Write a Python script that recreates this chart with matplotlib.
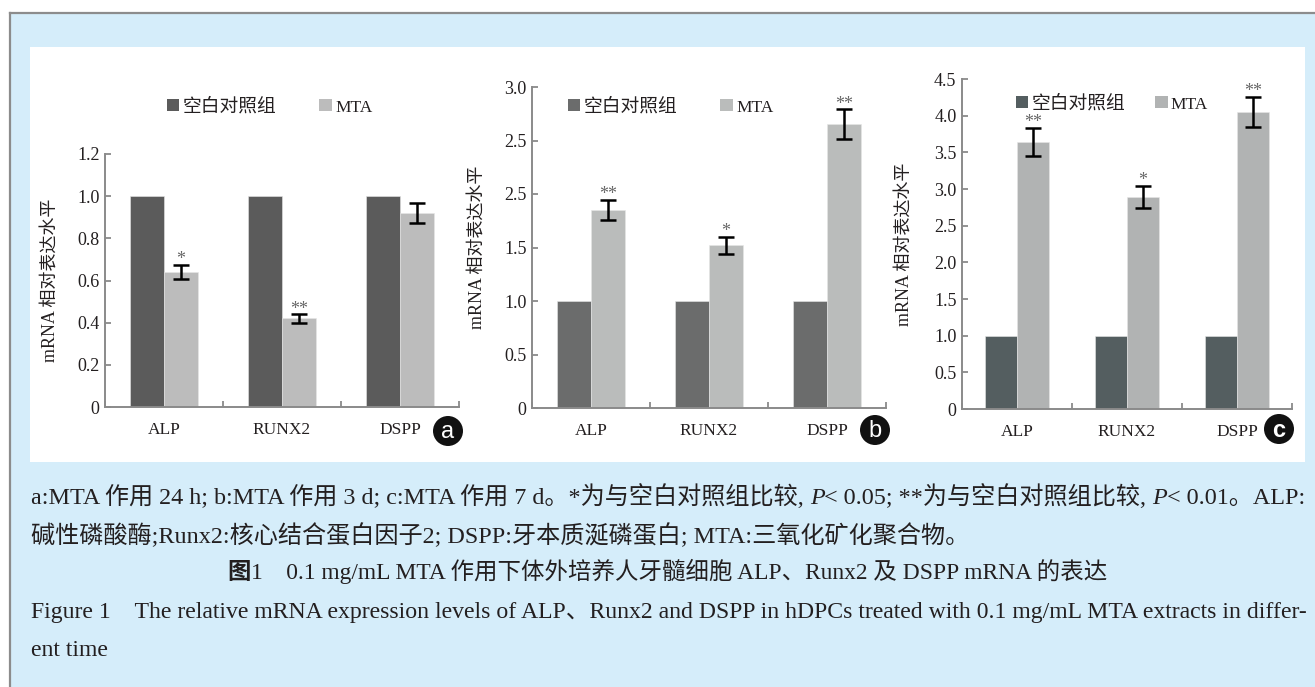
import matplotlib
matplotlib.use("Agg")
import matplotlib.pyplot as plt
import numpy as np
from matplotlib.patches import Rectangle, Ellipse, Patch

plt.rcParams['font.family'] = ['Liberation Serif', 'Noto Sans CJK SC']

W, H = 1315, 687

genes = ['ALP', 'RUNX2', 'DSPP']
legend_labels = ['空白对照组', 'MTA']
ylabel = 'mRNA 相对表达水平'

ctrl_a = [1.0, 1.0, 1.0]
mta_a = [0.64, 0.42, 0.92]
err_a = [0.035, 0.02, 0.048]
star_a = ['*', '**', '']
ticks_a = [0, 0.2, 0.4, 0.6, 0.8, 1.0, 1.2]
ticklab_a = ['0', '0.2', '0.4', '0.6', '0.8', '1.0', '1.2']

ctrl_b = [1.0, 1.0, 1.0]
mta_b = [1.85, 1.52, 2.65]
err_b = [0.095, 0.08, 0.14]
star_b = ['**', '*', '**']
ticks_b = [0, 0.5, 1.0, 1.5, 2.0, 2.5, 3.0]
ticklab_b = ['0', '0.5', '1.0', '1.5', '2.5', '2.5', '3.0']  # as printed

ctrl_c = [1.0, 1.0, 1.0]
mta_c = [3.64, 2.89, 4.05]
err_c = [0.19, 0.15, 0.21]
star_c = ['**', '*', '**']
ticks_c = [0, 0.5, 1.0, 1.5, 2.0, 2.5, 3.0, 3.5, 4.0, 4.5]
ticklab_c = ['0', '0.5', '1.0', '1.5', '2.0', '2.5', '3.0', '3.5', '4.0', '4.5']

caption1 = [("a:MTA 作用 24 h; b:MTA 作用 3 d; c:MTA 作用 7 d。*为与空白对照组比较, ", 'normal', 'normal'),
            ("P", 'italic', 'normal'),
            ("< 0.05; **为与空白对照组比较, ", 'normal', 'normal'),
            ("P", 'italic', 'normal'),
            ("< 0.01。ALP:", 'normal', 'normal')]
caption2 = [("碱性磷酸酶;Runx2:核心结合蛋白因子2; DSPP:牙本质涎磷蛋白; MTA:三氧化矿化聚合物。", 'normal', 'normal')]
caption3 = [("图", 'normal', 'bold'),
            ("1　0.1 mg/mL MTA 作用下体外培养人牙髓细胞 ALP、Runx2 及 DSPP mRNA 的表达", 'normal', 'normal')]
caption4 = [("Figure 1　The relative mRNA expression levels of ALP、Runx2 and DSPP in hDPCs treated with 0.1 mg/mL MTA extracts in differ-", 'normal', 'normal')]
caption5 = [("ent time", 'normal', 'normal')]


def fx(x):
    return x / W


def fy(y):
    return 1 - y / H


fig = plt.figure(figsize=(W / 100, H / 100), dpi=100, facecolor='white')

# page background, border and white panel
fig.add_artist(Rectangle((fx(10), 0), 1, fy(13), transform=fig.transFigure,
                         facecolor='#d5edfa', edgecolor='none', zorder=-10))
fig.add_artist(plt.Line2D([fx(10), fx(10)], [0, fy(13)], transform=fig.transFigure,
                          color='#8c8c8c', lw=1.6, zorder=-9))
fig.add_artist(plt.Line2D([fx(10), 1], [fy(13), fy(13)], transform=fig.transFigure,
                          color='#8c8c8c', lw=1.6, zorder=-9))
fig.add_artist(Rectangle((fx(30), fy(462)), fx(1305) - fx(30), fy(47) - fy(462),
                         transform=fig.transFigure, facecolor='white', edgecolor='none', zorder=-8))

spine_col = '#8a8a8a'
text_col = '#231f20'


def panel(box, ctrl, mta, err, stars, ticks, ticklab, dark, light, leg_xy, colsp, badge_xy, letter, bw):
    x0, x1, yt, yb = box
    ax = fig.add_axes([fx(x0), fy(yb), (x1 - x0) / W, (yb - yt) / H])
    ax.set_facecolor('none')
    x = np.arange(len(genes))
    w = 0.29
    ax.bar(x - w / 2, ctrl, w, color=dark, edgecolor='#e6e6e6', linewidth=0.4, zorder=2)
    ax.bar(x + w / 2, mta, w, color=light, edgecolor='#e6e6e6', linewidth=0.4, zorder=2)
    ax.errorbar(x + w / 2, mta, yerr=err, fmt='none', ecolor='black', elinewidth=1.8,
                capsize=6, capthick=1.8, zorder=3)
    for xi, m, e, s in zip(x, mta, err, stars):
        if s:
            ax.annotate(s, (xi + w / 2, m + e), xytext=(0, 0.5), textcoords='offset points',
                        ha='center', va='baseline', fontsize=13, color='#666666')
    ax.set_xlim(-0.5, len(genes) - 0.5)
    ax.set_ylim(ticks[0], ticks[-1])
    ax.set_yticks(ticks)
    ax.set_yticklabels(ticklab)
    ax.set_xticks(x)
    ax.set_xticklabels(genes)
    ax.set_xticks(np.arange(len(genes) + 1) - 0.5, minor=True)
    for s in ['top', 'right']:
        ax.spines[s].set_visible(False)
    for s in ['left', 'bottom']:
        ax.spines[s].set_color(spine_col)
        ax.spines[s].set_linewidth(1.4)
    ax.tick_params(axis='y', direction='in', length=4.5, width=1.3, color=spine_col,
                   labelsize=13, labelcolor=text_col, pad=4)
    ax.tick_params(axis='x', which='major', length=0, labelsize=12.5, labelcolor=text_col, pad=11)
    ax.tick_params(axis='x', which='minor', direction='in', length=4.5, width=1.3, color=spine_col)
    ax.set_ylabel(ylabel, fontsize=13, color=text_col)
    handles = [Patch(facecolor=dark), Patch(facecolor=light)]
    leg = ax.legend(handles, legend_labels, loc='center left', ncol=2, frameon=False,
                    bbox_to_anchor=(fx(leg_xy[0]), fy(leg_xy[1])), bbox_transform=fig.transFigure,
                    borderpad=0, borderaxespad=0, handlelength=0.65, handleheight=0.65,
                    handletextpad=0.18, columnspacing=colsp, fontsize=13.5)
    leg.get_texts()[1].set_fontsize(12.5)
    for t in leg.get_texts():
        t.set_color(text_col)
    bx, by = badge_xy
    fig.add_artist(Ellipse((fx(bx), fy(by)), 30 / W, 30 / H, transform=fig.transFigure,
                           facecolor='#111111', edgecolor='none', zorder=5))
    fig.text(fx(bx), fy(by + 1), letter, ha='center', va='center', color='white',
             fontsize=17, family='Liberation Sans', fontweight=bw, zorder=6)
    return ax


ax_a = panel((105, 459, 154, 407), ctrl_a, mta_a, err_a, star_a, ticks_a, ticklab_a,
             '#5b5b5b', '#bcbcbc', (167, 107), 2.3, (448, 431), 'a', 'normal')
ax_b = panel((532, 886, 87, 408), ctrl_b, mta_b, err_b, star_b, ticks_b, ticklab_b,
             '#6b6c6c', '#babcbb', (568, 107), 2.3, (875, 430), 'b', 'normal')
ax_c = panel((962, 1292, 79, 409), ctrl_c, mta_c, err_c, star_c, ticks_c, ticklab_c,
             '#545e60', '#b1b3b3', (1016, 104), 1.6, (1279, 429), 'c', 'bold')

# y-labels at their pixel columns
for ax, xl in [(ax_a, 60), (ax_b, 487), (ax_c, 914)]:
    pos = ax.get_position()
    ax.yaxis.set_label_coords(fx(xl), (pos.y0 + pos.y1) / 2, transform=fig.transFigure)

renderer = fig.canvas.get_renderer()


def adv(s, size, style, weight):
    t1 = fig.text(0, 0, '|' + s + '|', fontsize=size, fontstyle=style, fontweight=weight)
    t2 = fig.text(0, 0, '||', fontsize=size, fontstyle=style, fontweight=weight)
    w = t1.get_window_extent(renderer).width - t2.get_window_extent(renderer).width
    t1.remove()
    t2.remove()
    return w


def write_line(parts, x0, base, size, x1=None, center=None):
    if x1 is not None:
        total = sum(adv(s, size, st, wt) for s, st, wt in parts)
        size = size * (x1 - x0) / total
    widths = [adv(s, size, st, wt) for s, st, wt in parts]
    if center is not None:
        x0 = center - sum(widths) / 2
    x = x0
    for (s, st, wt), wd in zip(parts, widths):
        fig.text(fx(x), fy(base), s, fontsize=size, fontstyle=st, fontweight=wt,
                 ha='left', va='baseline', color=text_col)
        x += wd
    return size


s1 = write_line(caption1, 31, 504, 13, x1=1302)
write_line(caption2, 31, 543, s1)
write_line(caption3, 227, 579, 14, x1=1108)
s4 = write_line(caption4, 31, 618, 13, x1=1302)
write_line(caption5, 31, 656, s4)

fig.savefig('out.png', dpi=100)
